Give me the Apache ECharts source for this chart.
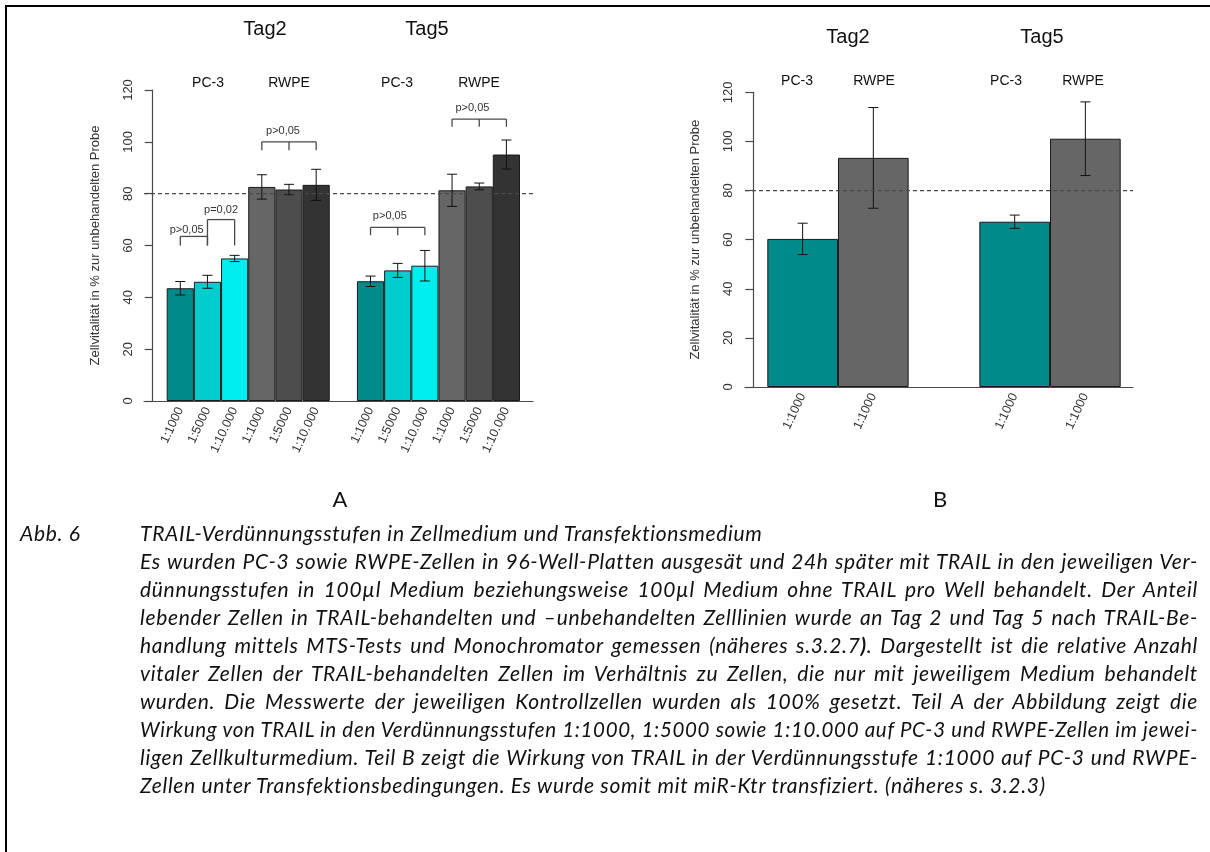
<!DOCTYPE html>
<html><head><meta charset="utf-8">
<script src="https://cdn.jsdelivr.net/npm/echarts@6/dist/echarts.min.js"></script>
<style>
html,body{margin:0;padding:0;background:#fff;}
#wrap{position:relative;width:1210px;height:852px;overflow:hidden;background:#fff;}
#chart{position:absolute;left:0;top:0;width:1210px;height:852px;}
#frame{position:absolute;left:5px;top:5px;width:1220px;height:860px;border-left:2px solid #000;border-top:2px solid #000;pointer-events:none;}
.cap{position:absolute;font-family:Lato,"Open Sans",sans-serif;font-style:italic;font-size:21px;letter-spacing:0.68px;color:#111;white-space:nowrap;line-height:28px;transform-origin:left center;}
</style></head>
<body><div id="wrap"><div id="chart"></div><div id="frame"></div><div id="caption"></div></div>
<script>
// ---------- data ----------
const categoriesA = ['1:1000','1:5000','1:10.000','1:1000','1:5000','1:10.000','','1:1000','1:5000','1:10.000','1:1000','1:5000','1:10.000'];
const tag2PC3     = [43.5, 46.0, 55.0];
const tag2PC3Err  = [2.6, 2.5, 1.2];
const tag2RWPE    = [82.6, 81.6, 83.4];
const tag2RWPEErr = [4.7, 2.0, 6.0];
const tag5PC3     = [46.2, 50.4, 52.2];
const tag5PC3Err  = [2.0, 2.7, 5.9];
const tag5RWPE    = [81.3, 82.8, 95.1];
const tag5RWPEErr = [6.2, 1.3, 5.6];

const categoriesB = ['1:1000','1:1000','','1:1000','1:1000'];
const bTag2    = [60.3, 93.3];   // PC-3, RWPE
const bTag2Err = [6.4, 20.5];
const bTag5    = [67.3, 101.1];  // PC-3, RWPE
const bTag5Err = [2.7, 15.0];

const yMin = 0, yMax = 120, yStep = 20;
const refLine = 80;

// p-value brackets in panel A (category index, value units)
const bracketsA = [
  {from:0, to:1, mid:null, top:63.5, bottom:60,   label:'p>0,05', lx:0.235, ly:66.0},
  {from:1, to:2, mid:null, top:70.0, bottom:60,   label:'p=0,02', lx:1.50,  ly:73.7},
  {from:3, to:5, mid:4,    top:100.0, bottom:96.8, label:'p>0,05', lx:3.78, ly:104.3},
  {from:7, to:9, mid:8,    top:67.0, bottom:64.0, label:'p>0,05', lx:7.71,  ly:71.4},
  {from:10, to:12, mid:11, top:108.8, bottom:105.8, label:'p>0,05', lx:10.75, ly:113.2}
];

const captionLines = [
  'TRAIL-Verdünnungsstufen in Zellmedium und Transfektionsmedium',
  'Es wurden PC-3 sowie RWPE-Zellen in 96-Well-Platten ausgesät und 24h später mit TRAIL in den jeweiligen Ver-',
  'dünnungsstufen in 100µl Medium beziehungsweise 100µl Medium ohne TRAIL pro Well behandelt. Der Anteil',
  'lebender Zellen in TRAIL-behandelten und –unbehandelten Zelllinien wurde an Tag 2 und Tag 5 nach TRAIL-Be-',
  'handlung mittels MTS-Tests und Monochromator gemessen (näheres s.3.2.7<b>)</b>. Dargestellt ist die relative Anzahl',
  'vitaler Zellen der TRAIL-behandelten Zellen im Verhältnis zu Zellen, die nur mit jeweiligem Medium behandelt',
  'wurden. Die Messwerte der jeweiligen Kontrollzellen wurden als 100% gesetzt. Teil A der Abbildung zeigt die',
  'Wirkung von TRAIL in den Verdünnungsstufen 1:1000, 1:5000 sowie 1:10.000 auf PC-3 und RWPE-Zellen im jewei-',
  'ligen Zellkulturmedium. Teil B zeigt die Wirkung von TRAIL in der Verdünnungsstufe 1:1000 auf PC-3 und RWPE-',
  'Zellen unter Transfektionsbedingungen. Es wurde somit mit miR-Ktr transfiziert. (näheres s. 3.2.3)'
];
const justifyLines = [false,true,true,true,true,true,true,true,true,false];

// ---------- styles ----------
const colorsPC3  = ['#008B8B','#00CDCD','#00EEEE'];
const colorsRWPE = ['#666666','#4D4D4D','#333333'];
const FONT = '"Liberation Sans", Arial, sans-serif';
const AXIS_COLOR = '#4a4a4a';

// ---------- build series data ----------
function items(vals, cols){ return vals.map((v,i)=>({value:v, itemStyle:{color:cols[i]}})); }
const barA = [].concat(items(tag2PC3,colorsPC3), items(tag2RWPE,colorsRWPE), ['-'],
                       items(tag5PC3,colorsPC3), items(tag5RWPE,colorsRWPE));
const valsA = [].concat(tag2PC3, tag2RWPE, [null], tag5PC3, tag5RWPE);
const errsA = [].concat(tag2PC3Err, tag2RWPEErr, [null], tag5PC3Err, tag5RWPEErr);
const errDataA = [];
valsA.forEach((v,i)=>{ if(v!==null) errDataA.push([i, v, errsA[i]]); });

const colsB = [colorsPC3[0], colorsRWPE[0]];
const barB = [].concat(items(bTag2,colsB), ['-'], items(bTag5,colsB));
const valsB = [].concat(bTag2, [null], bTag5);
const errsB = [].concat(bTag2Err, [null], bTag5Err);
const errDataB = [];
valsB.forEach((v,i)=>{ if(v!==null) errDataB.push([i, v, errsB[i]]); });

function errRender(params, api){
  const x = api.value(0), v = api.value(1), e = api.value(2);
  const t = api.coord([x, v+e]), b = api.coord([x, v-e]);
  const hw = 5, st = {stroke:'#111', lineWidth:1};
  return {type:'group', children:[
    {type:'line', shape:{x1:t[0],y1:t[1],x2:b[0],y2:b[1]}, style:st},
    {type:'line', shape:{x1:t[0]-hw,y1:t[1],x2:t[0]+hw,y2:t[1]}, style:st},
    {type:'line', shape:{x1:b[0]-hw,y1:b[1],x2:b[0]+hw,y2:b[1]}, style:st}
  ]};
}
function bracketRender(params, api){
  const br = bracketsA[params.dataIndex];
  const bw = api.size([1,0])[0];
  const x0 = api.coord([0, 0])[0];
  const px = i => x0 + i*bw;
  const yt = api.coord([0, br.top])[1], yb = api.coord([0, br.bottom])[1], yl = api.coord([0, br.ly])[1];
  const st = {stroke:'#4a4a4a', lineWidth:1.3};
  const ch = [
    {type:'line', shape:{x1:px(br.from),y1:yt,x2:px(br.to),y2:yt}, style:st},
    {type:'line', shape:{x1:px(br.from),y1:yt,x2:px(br.from),y2:yb}, style:st},
    {type:'line', shape:{x1:px(br.to),y1:yt,x2:px(br.to),y2:yb}, style:st},
    {type:'text', x:px(br.lx), y:yl, style:{text:br.label, fontSize:11, fontFamily:FONT, fill:'#333', align:'center', verticalAlign:'middle'}}
  ];
  if(br.mid!==null) ch.push({type:'line', shape:{x1:px(br.mid),y1:yt,x2:px(br.mid),y2:yb}, style:st});
  return {type:'group', children:ch};
}

const grids = [
  {left:166.7, top:90, width:353.3, height:311},
  {left:144, top:90, width:389, height:311},
  {left:767.3, top:92.3, width:353.4, height:294.7},
  {left:745, top:92.3, width:388, height:294.7}
];

function catX(gi, cats){
  return {type:'category', gridIndex:gi, data:cats, boundaryGap:true,
    axisLine:{show:false}, axisTick:{show:false}, splitLine:{show:false},
    axisLabel:{interval:0, rotate:65, fontSize:12.5, fontFamily:FONT, color:'#333', margin:7}};
}
function plainX(gi){
  return {type:'value', gridIndex:gi, min:0, max:1, axisLine:{show:true, lineStyle:{color:AXIS_COLOR, width:1.2}},
    axisTick:{show:false}, axisLabel:{show:false}, splitLine:{show:false}};
}
function mainY(gi){
  return {type:'value', gridIndex:gi, min:yMin, max:yMax, interval:yStep, offset:14,
    name:'Zellvitalität in % zur unbehandelten Probe', nameLocation:'middle', nameRotate:90, nameGap:51,
    nameTextStyle:{fontSize:13, fontFamily:FONT, color:'#333'},
    axisLine:{show:true, lineStyle:{color:AXIS_COLOR, width:1.2}},
    axisTick:{show:true, length:8, lineStyle:{color:AXIS_COLOR, width:1.2}},
    axisLabel:{rotate:90, fontSize:13, fontFamily:FONT, color:'#333', margin:18},
    splitLine:{show:false}};
}
function hiddenY(gi){
  return {type:'value', gridIndex:gi, min:yMin, max:yMax, show:false, splitLine:{show:false}};
}
function barSeries(xi, data){
  return {type:'bar', xAxisIndex:xi, yAxisIndex:xi, data:data, barWidth:'100%', barCategoryGap:'0%',
    itemStyle:{borderColor:'#1a1a1a', borderWidth:1}, z:2, silent:true};
}
function dashSeries(xi){
  return {type:'line', xAxisIndex:xi, yAxisIndex:xi, data:[[0,refLine],[1,refLine]], symbol:'none',
    lineStyle:{type:[4,3], color:'#4a4a4a', width:1.2}, z:6, silent:true};
}

function txt(x,y,text,size,family){
  return {type:'text', x:x, y:y, z:10, style:{text:text, fontSize:size, fontFamily:family||FONT, fill:'#111', align:'center', verticalAlign:'middle'}};
}

const option = {
  animation:false,
  backgroundColor:'#fff',
  grid: grids,
  xAxis:[catX(0,categoriesA), plainX(1), catX(2,categoriesB), plainX(3)],
  yAxis:[mainY(0), hiddenY(1), mainY(2), hiddenY(3)],
  series:[
    barSeries(0, barA),
    {type:'custom', xAxisIndex:0, yAxisIndex:0, data:errDataA, renderItem:errRender, z:4, clip:false, silent:true},
    {type:'custom', xAxisIndex:0, yAxisIndex:0, data:bracketsA.map(b=>[b.from,b.top]), renderItem:bracketRender, z:4, clip:false, silent:true},
    dashSeries(1),
    barSeries(2, barB),
    {type:'custom', xAxisIndex:2, yAxisIndex:2, data:errDataB, renderItem:errRender, z:4, clip:false, silent:true},
    dashSeries(3)
  ],
  graphic:[
    txt(265,29,'Tag2',20), txt(427,29,'Tag5',20),
    txt(208,83,'PC-3',14), txt(289,83,'RWPE',14), txt(397,83,'PC-3',14), txt(479,83,'RWPE',14),
    txt(848,37,'Tag2',20), txt(1042,37,'Tag5',20),
    txt(797,81,'PC-3',14), txt(874,81,'RWPE',14), txt(1006,81,'PC-3',14), txt(1083,81,'RWPE',14),
    txt(340,500,'A',22,'Lato, "Open Sans", sans-serif'), txt(940,500,'B',22,'Lato, "Open Sans", sans-serif')
  ]
};
const chart = echarts.init(document.getElementById('chart'), null, {renderer:'canvas'});
chart.setOption(option);

// ---------- caption (HTML text) ----------
const cap = document.getElementById('caption');
const abb = document.createElement('div');
abb.className='cap'; abb.style.left='20px'; abb.style.top=(533-14)+'px'; abb.textContent='Abb. 6';
cap.appendChild(abb);
const TW = 1058;
captionLines.forEach((t,i)=>{
  const d = document.createElement('div');
  d.className='cap'; d.style.left='140px'; d.style.top=(533-14+28*i)+'px';
  const s = document.createElement('span'); s.innerHTML = t; d.appendChild(s);
  cap.appendChild(d);
  const w = s.getBoundingClientRect().width;
  if(justifyLines[i]){
    if(w < TW){
      const n = (t.replace(/<[^>]+>/g,'').match(/ /g)||[]).length;
      s.style.wordSpacing = ((TW - w)/n)+'px';
    } else {
      d.style.transform = 'scaleX('+(TW/w)+')';
    }
  }
});
</script>
</body></html>
